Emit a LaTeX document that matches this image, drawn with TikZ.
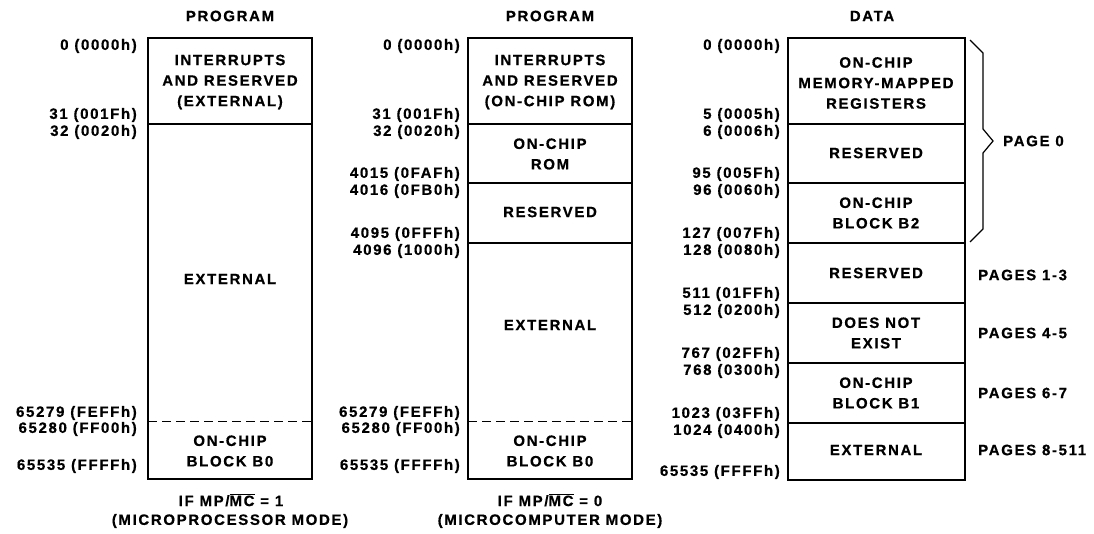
\documentclass[tikz,border=0pt]{standalone}
\usepackage{fontspec}
\setmainfont[LetterSpace=11, BoldFeatures={FakeBold=0.6}]{Liberation Sans}
\newcommand\lbfont{\fontsize{15}{20.5}\selectfont\bfseries}
\tikzset{
  lbl/.style={anchor=east, font=\lbfont, inner sep=0pt},
  pg/.style={anchor=west, font=\lbfont, inner sep=0pt},
  ttl/.style={font=\lbfont, inner sep=0pt},
  inbox/.style={font=\lbfont, align=center, inner sep=0pt},
  boxline/.style={line width=1.6pt},
  divline/.style={line width=1.1pt},
  dashline/.style={line width=1pt, dash pattern=on 9pt off 5pt},
}
\begin{document}
\begin{tikzpicture}[x=1pt,y=-1pt]
\useasboundingbox (0,0) rectangle (1094,534);
% ---------- titles
\node[ttl] (t1) at (230,16) {PROGRAM};
\node[ttl] (t2) at (550,16) {PROGRAM};
\node[ttl] (t3) at (872,16) {DATA};
% ---------- box 1
\draw[boxline] (148,38) rectangle (312,479);
\draw[divline] (148,124) -- (312,124);
\draw[dashline] (148,421) -- (312,421);
\node[inbox] (a1) at (230,82) {INTERRUPTS\\AND RESERVED\\(EXTERNAL)};
\node[inbox] (a2) at (230,279) {EXTERNAL};
\node[inbox] (a3) at (230,451) {ON-CHIP\\BLOCK B0};
\node[lbl] (la1) at (137,46) {0 (0000h)};
\node[lbl] (la2) at (137,115) {31 (001Fh)};
\node[lbl] (la3) at (137,132) {32 (0020h)};
\node[lbl] (la4) at (137,413) {65279 (FEFFh)};
\node[lbl] (la5) at (137,429) {65280 (FF00h)};
\node[lbl] (la6) at (137,466) {65535 (FFFFh)};
\node[ttl] (c1) at (231,500) {IF MP/$\overline{\mbox{MC}}$ = 1};
\node[ttl] (c2) at (230,521) {(MICROPROCESSOR MODE)};
% ---------- box 2
\draw[boxline] (468,38) rectangle (632,479);
\foreach \yy in {124,183,243} \draw[divline] (468,\yy) -- (632,\yy);
\draw[dashline] (468,421) -- (632,421);
\node[inbox] (b1) at (550,82) {INTERRUPTS\\AND RESERVED\\(ON-CHIP ROM)};
\node[inbox] (b2) at (550,154) {ON-CHIP\\ROM};
\node[inbox] (b3) at (550,212) {RESERVED};
\node[inbox] (b4) at (550,325) {EXTERNAL};
\node[inbox] (b5) at (550,451) {ON-CHIP\\BLOCK B0};
\node[lbl] (lb1) at (460,46) {0 (0000h)};
\node[lbl] (lb2) at (460,115) {31 (001Fh)};
\node[lbl] (lb3) at (460,132) {32 (0020h)};
\node[lbl] (lb4) at (460,174) {4015 (0FAFh)};
\node[lbl] (lb5) at (460,191) {4016 (0FB0h)};
\node[lbl] (lb6) at (460,234) {4095 (0FFFh)};
\node[lbl] (lb7) at (460,251) {4096 (1000h)};
\node[lbl] (lb8) at (460,413) {65279 (FEFFh)};
\node[lbl] (lb9) at (460,429) {65280 (FF00h)};
\node[lbl] (lb10) at (460,466) {65535 (FFFFh)};
\node[ttl] (d1) at (550,500) {IF MP/$\overline{\mbox{MC}}$ = 0};
\node[ttl] (d2) at (550,521) {(MICROCOMPUTER MODE)};
% ---------- box 3
\draw[boxline] (788,38) rectangle (965,480);
\foreach \yy in {124,183,243,303,363,423} \draw[divline] (788,\yy) -- (965,\yy);
\node[inbox] (e1) at (876,83) {ON-CHIP\\MEMORY-MAPPED\\REGISTERS};
\node[inbox] (e2) at (876,153) {RESERVED};
\node[inbox] (e3) at (876,213) {ON-CHIP\\BLOCK B2};
\node[inbox] (e4) at (876,273) {RESERVED};
\node[inbox] (e5) at (876,333) {DOES NOT\\EXIST};
\node[inbox] (e6) at (876,393) {ON-CHIP\\BLOCK B1};
\node[inbox] (e7) at (876,450) {EXTERNAL};
\node[lbl] (lc1) at (780,46) {0 (0000h)};
\node[lbl] (lc2) at (780,115) {5 (0005h)};
\node[lbl] (lc3) at (780,132) {6 (0006h)};
\node[lbl] (lc4) at (780,174) {95 (005Fh)};
\node[lbl] (lc5) at (780,191) {96 (0060h)};
\node[lbl] (lc6) at (780,234) {127 (007Fh)};
\node[lbl] (lc7) at (780,251) {128 (0080h)};
\node[lbl] (lc8) at (780,294) {511 (01FFh)};
\node[lbl] (lc9) at (780,311) {512 (0200h)};
\node[lbl] (lc10) at (780,354) {767 (02FFh)};
\node[lbl] (lc11) at (780,371) {768 (0300h)};
\node[lbl] (lc12) at (780,414) {1023 (03FFh)};
\node[lbl] (lc13) at (780,431) {1024 (0400h)};
\node[lbl] (lc14) at (780,472) {65535 (FFFFh)};
% brace
\draw[line width=1.2pt, line join=miter] (970,40) -- (983,53) -- (983,129) -- (993,141) -- (983,153) -- (983,229) -- (970,242);
\node[pg] (p0) at (1003,141) {PAGE 0};
\node[pg] (p1) at (978,275) {PAGES 1-3};
\node[pg] (p2) at (978,333) {PAGES 4-5};
\node[pg] (p3) at (978,393) {PAGES 6-7};
\node[pg] (p4) at (978,450) {PAGES 8-511};
\end{tikzpicture}
\end{document}
